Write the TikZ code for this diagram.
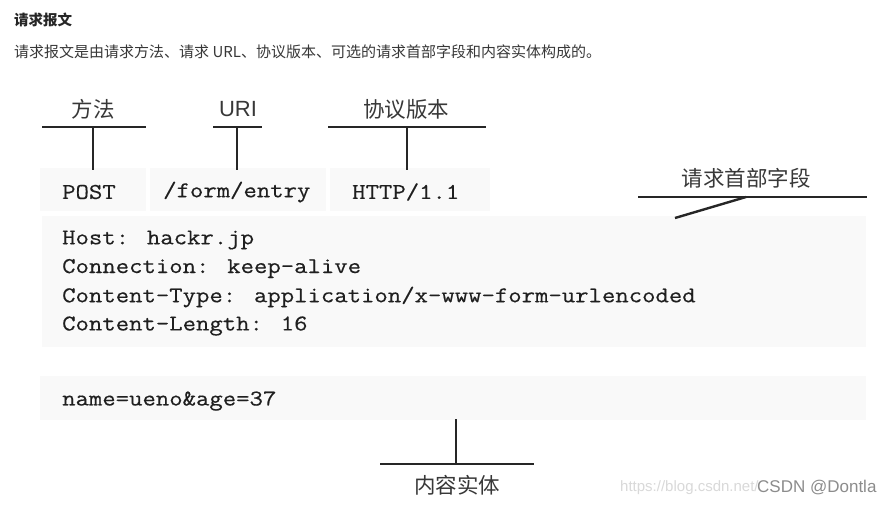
\documentclass[tikz,border=0pt]{standalone}
\usepackage{fontspec}
\setmainfont{Noto Sans CJK SC}
\newfontfamily\cjk{Noto Sans CJK SC}
\newfontfamily\codefont[FakeStretch=1.155,FakeBold=0.45]{Latin Modern Mono}
\newfontfamily\wmfont{Liberation Sans}
\begin{document}
\begin{tikzpicture}[x=1pt,y=-1pt,
  bar/.style={line width=2.4pt, black!85},
  band/.style={fill=black!2.5, draw=none},
  code/.style={font=\codefont\fontsize{22.5}{22.5}\selectfont, anchor=west, inner sep=0pt, text=black!88},
  lbl/.style={font=\cjk\fontsize{21.5}{21.5}\selectfont, inner sep=0pt, text=black!78}]
\useasboundingbox[fill=white] (0,0) rectangle (890,511);

% header texts
\node[anchor=west, inner sep=0pt, font=\cjk\bfseries\fontsize{14.5}{14.5}\selectfont, text=black!85] (title) at (14,20) {请求报文};
\node[anchor=west, inner sep=0pt, font=\cjk\fontsize{15}{15}\selectfont, text=black!78] (sub) at (14,52) {请求报文是由请求方法、请求 URL、协议版本、可选的请求首部字段和内容实体构成的。};

% background bands
\fill[band] (40,168) rectangle (146,211);
\fill[band] (150,168) rectangle (326,211);
\fill[band] (330,168) rectangle (490,211);
\fill[band] (42,216) rectangle (866,347);
\fill[band] (40,376) rectangle (866,420);

% request line
\node[code] (post) at (62,192) {POST};
\node[code] (uri) at (163,192) {/form/entry};
\node[code] (ver) at (352,192) {HTTP/1.1};

% header lines
\node[code] (h1) at (62,240) {Host: hackr.jp};
\node[code] (h2) at (62,268.5) {Connection: keep-alive};
\node[code] (h3) at (62,297) {Content-Type: application/x-www-form-urlencoded};
\node[code] (h4) at (62,326) {Content-Length: 16};

% body
\node[code] (body) at (62,401) {name=ueno\&age=37};

% labels
\node[lbl] (lm) at (93,109) {方法};
\node[lbl, font=\wmfont\fontsize{22}{22}\selectfont] (lu) at (238,109) {URI};
\node[lbl] (lv) at (406,109) {协议版本};
\node[lbl] (lh) at (746,178) {请求首部字段};
\node[lbl] (lb) at (457,485) {内容实体};

% bars and stems
\coordinate (m1) at (42,127); \coordinate (m2) at (146,127); \coordinate (mt) at (93,127); \coordinate (mb) at (93,170);
\draw[bar] (m1) -- (m2); \draw[bar] (mt) -- (mb);
\coordinate (u1) at (213,127); \coordinate (u2) at (262,127); \coordinate (ut) at (237,127); \coordinate (ub) at (237,170);
\draw[bar] (u1) -- (u2); \draw[bar] (ut) -- (ub);
\coordinate (v1) at (328,127); \coordinate (v2) at (486,127); \coordinate (vt) at (407,127); \coordinate (vb) at (407,170);
\draw[bar] (v1) -- (v2); \draw[bar] (vt) -- (vb);
\coordinate (k1) at (638,197); \coordinate (k2) at (867,197); \coordinate (kt) at (746,197); \coordinate (kb) at (675,218);
\draw[bar] (k1) -- (k2); \draw[bar] (kt) -- (kb);
\coordinate (b1) at (380,464); \coordinate (b2) at (534,464); \coordinate (bt) at (456,464); \coordinate (bb) at (456,419);
\draw[bar] (b1) -- (b2); \draw[bar] (bt) -- (bb);

% watermark
\node[anchor=west, inner sep=0pt, font=\wmfont\fontsize{15}{15}\selectfont, text=black!15] (url) at (620,488) {https://blog.csdn.net/};
\node[anchor=west, inner sep=0pt, font=\wmfont\fontsize{17}{17}\selectfont, text=black!45] (wm) at (757,488) {CSDN @Dontla};
\end{tikzpicture}
\end{document}
